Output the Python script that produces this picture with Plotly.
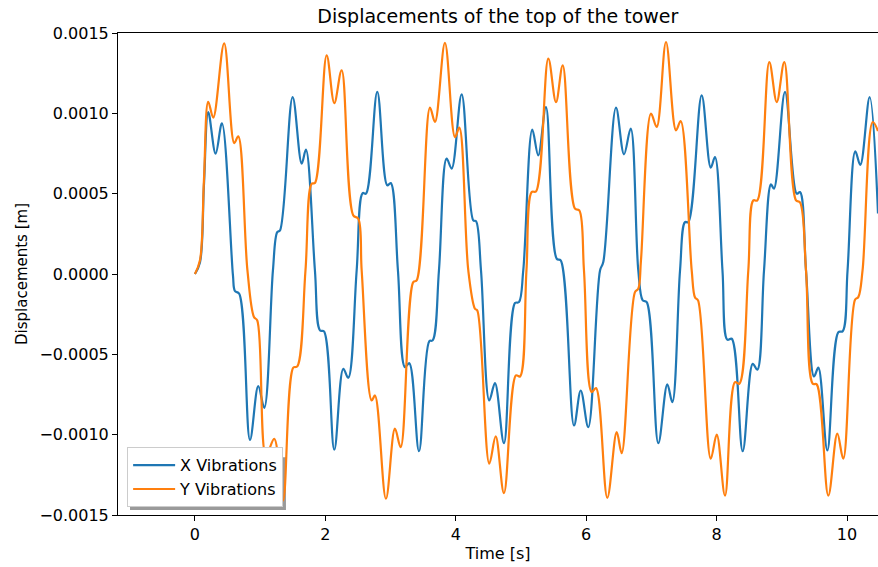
import plotly.graph_objects as go

# Time [s] and displacement [m]
t_x = [0.000, 0.077, 0.138, 0.204, 0.317, 0.414, 0.583, 0.613, 0.679, 0.844, 0.971, 1.063,
       1.196, 1.262, 1.304, 1.498, 1.637, 1.702, 1.840, 1.917, 1.979, 2.137, 2.275, 2.351,
       2.480, 2.572, 2.623, 2.796, 2.949, 3.002, 3.113, 3.221, 3.287, 3.436, 3.594, 3.646,
       3.742, 3.860, 3.937, 4.090, 4.268, 4.310, 4.387, 4.514, 4.601, 4.739, 4.908, 4.969,
       5.035, 5.173, 5.265, 5.383, 5.548, 5.609, 5.813, 5.916, 6.032, 6.212, 6.262, 6.457,
       6.580, 6.683, 6.799, 6.867, 6.928, 7.106, 7.244, 7.321, 7.439, 7.515, 7.566, 7.771,
       7.910, 7.975, 8.090, 8.164, 8.232, 8.400, 8.554, 8.624, 8.727, 8.834, 8.880, 9.049,
       9.229, 9.279, 9.371, 9.494, 9.560, 9.698, 9.867, 9.934, 10.008, 10.127, 10.204, 10.347,
       10.475]
x_vib = [0.0, 0.000072, 0.000552, 0.001008, 0.000749, 0.000938, -0.000009, -0.000106, -0.000123,
         -0.001032, -0.000698, -0.000833,
         0.000022, 0.000261, 0.000271, 0.001101, 0.000687, 0.000774, 0.000022, -0.000351, -0.000357,
         -0.001094, -0.000590, -0.000646,
         0.000022, 0.000504, 0.000500, 0.001133, 0.000552, 0.000566, 0.000022, -0.000580, -0.000555,
         -0.001103, -0.000418, -0.000413,
         0.000022, 0.000718, 0.000656, 0.001118, 0.000334, 0.000329, 0.000022, -0.000787, -0.000679,
         -0.001053, -0.000181, -0.000175,
         0.000022, 0.000899, 0.000738, 0.001039, 0.000095, 0.000085, -0.000943, -0.000725, -0.000953,
         0.000022, 0.000074, 0.001035,
         0.000745, 0.000905, 0.000022, -0.000164, -0.000175, -0.001053, -0.000687, -0.000798,
         0.000022, 0.000323, 0.000323, 0.001112,
         0.000662, 0.000728, 0.000022, -0.000409, -0.000403, -0.001103, -0.000559, -0.000596,
         0.000022, 0.000558, 0.000531, 0.001133,
         0.000500, 0.000510, 0.000022, -0.000638, -0.000583, -0.001098, -0.000362, -0.000356,
         0.000022, 0.000763, 0.000679, 0.001101,
         0.000377]

t_y = [0.000, 0.077, 0.138, 0.204, 0.281, 0.448, 0.603, 0.664, 0.805, 0.905, 0.956, 1.089,
       1.216, 1.350, 1.508, 1.569, 1.695, 1.790, 1.840, 2.020, 2.137, 2.250, 2.428, 2.505,
       2.557, 2.710, 2.761, 2.929, 3.067, 3.155, 3.348, 3.400, 3.604, 3.681, 3.834, 3.988,
       4.054, 4.192, 4.294, 4.330, 4.514, 4.612, 4.739, 4.923, 4.985, 5.084, 5.164, 5.230,
       5.419, 5.537, 5.640, 5.828, 5.894, 5.966, 6.084, 6.150, 6.324, 6.468, 6.544, 6.748,
       6.799, 6.840, 6.994, 7.081, 7.224, 7.377, 7.449, 7.618, 7.669, 7.715, 7.910, 8.002,
       8.129, 8.282, 8.348, 8.486, 8.563, 8.624, 8.808, 8.922, 9.038, 9.218, 9.279, 9.371,
       9.474, 9.535, 9.713, 9.851, 9.943, 10.123, 10.173, 10.238, 10.394, 10.475]
y_vib = [0.0, 0.000085, 0.000583, 0.001072, 0.000973, 0.001436, 0.000815, 0.000857, 0.000022,
         -0.000268, -0.000289, -0.001130,
         -0.001026, -0.001410, -0.000583, -0.000575, 0.000022, 0.000562, 0.000566, 0.001361,
         0.001064, 0.001268, 0.000365, 0.000344,
         0.000022, -0.000787, -0.000756, -0.001399, -0.000963, -0.001078, -0.000050, -0.000040,
         0.001035, 0.000946, 0.001438, 0.000852,
         0.000911, 0.000022, -0.000216, -0.000227, -0.001181, -0.001011, -0.001364, -0.000631,
         -0.000638, 0.000022, 0.000510, 0.000514,
         0.001341, 0.001070, 0.001299, 0.000407, 0.000396, 0.000022, -0.000735, -0.000710,
         -0.001393, -0.000984, -0.001115, -0.000113,
         -0.000092, 0.000085, 0.000998, 0.000915, 0.001444, 0.000894, 0.000952, 0.000022,
         -0.000146, -0.000164, -0.001150, -0.000999,
         -0.001379, -0.000673, -0.000683, 0.000022, 0.000458, 0.000458, 0.001319, 0.001070,
         0.001319, 0.000458, 0.000446, 0.000022,
         -0.000683, -0.000687, -0.001379, -0.000994, -0.001150, -0.000160, -0.000144, 0.000022,
         0.000946, 0.000890]

y_tick_vals = [0.0015, 0.0010, 0.0005, 0.0, -0.0005, -0.0010, -0.0015]
y_tick_text = ["0.0015", "0.0010", "0.0005", "0.0000", "\u22120.0005", "\u22120.0010", "\u22120.0015"]
x_tick_vals = [0, 2, 4, 6, 8, 10]

FONT = "DejaVu Sans"

fig = go.Figure()
fig.add_trace(go.Scatter(x=t_x, y=x_vib, mode="lines", name="X Vibrations",
                         line=dict(color="#1f77b4", width=2.2, shape="spline", smoothing=1.0)))
fig.add_trace(go.Scatter(x=t_y, y=y_vib, mode="lines", name="Y Vibrations",
                         line=dict(color="#ff7f0e", width=2.2, shape="spline", smoothing=1.0)))

fig.update_layout(
    width=878, height=567,
    margin=dict(l=118, r=0, t=33, b=52),
    paper_bgcolor="white", plot_bgcolor="white",
    font=dict(family=FONT, size=16, color="black"),
    title=dict(text="Displacements of the top of the tower", x=0.567, xanchor="center",
               y=0.971, yanchor="middle", font=dict(size=19, family=FONT, color="black")),
    showlegend=True,
    legend=dict(x=0.012, y=0.016, xanchor="left", yanchor="bottom",
                bgcolor="white", bordercolor="#cccccc", borderwidth=1,
                font=dict(size=16, family=FONT), tracegroupgap=0,
                itemwidth=42),
    xaxis=dict(range=[-1.18, 10.475], tickvals=x_tick_vals, showgrid=False, zeroline=False,
               showline=True, linecolor="black", linewidth=1, mirror=True,
               ticks="outside", ticklen=5, tickcolor="black",
               title=dict(text="Time [s]", font=dict(size=16), standoff=4)),
    yaxis=dict(range=[-0.0015, 0.0015], tickvals=y_tick_vals, ticktext=y_tick_text,
               showgrid=False, zeroline=False, showline=True, linecolor="black", linewidth=1,
               ticks="outside", ticklen=5, tickcolor="black",
               title=dict(text="Displacements [m]", font=dict(size=15), standoff=8)),
)

# legend drop shadow
fig.add_shape(type="rect", xref="paper", yref="paper", layer="below",
              x0=0.0158, x1=0.221, y0=0.0104, y1=0.12,
              fillcolor="#9a9a9a", line=dict(width=0))

fig.write_html("out.html")
